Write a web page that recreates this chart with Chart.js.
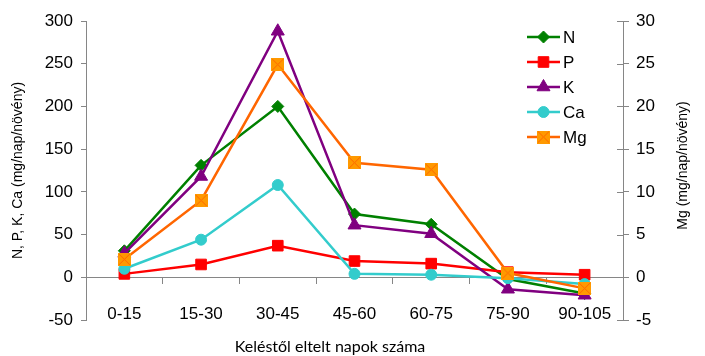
<!DOCTYPE html>
<html>
<head>
<meta charset="utf-8">
<script src="https://cdn.jsdelivr.net/npm/chart.js@4/dist/chart.umd.min.js"></script>
<style>
  html, body { margin: 0; padding: 0; background: #fff; }
  #wrap { width: 705px; height: 356px; }
</style>
</head>
<body>
<div id="wrap"><canvas id="chart" width="705" height="356"></canvas></div>
<script>
// időszakok (napok a keléstől)
const periods = ["0-15", "15-30", "30-45", "45-60", "60-75", "75-90", "90-105"];

// mg/nap/növény
const nValues  = [31, 131, 200, 74, 62, -2, -19];
const pValues  = [4, 15, 37, 19, 16, 6, 3];
const kValues  = [28, 118, 288, 61, 51, -14, -21];
const caValues = [10, 44, 108, 4, 3, -1, -8];
// Mg a jobb tengelyen
const mgValues = [2.1, 9.0, 24.9, 13.4, 12.6, 0.5, -1.3];

const leftTicks = [-50, 0, 50, 100, 150, 200, 250, 300];
const rightTicks = [-5, 0, 5, 10, 15, 20, 25, 30];

const xTitle = "Keléstől eltelt napok száma";
const rightTitle = "Mg (mg/nap/növény)";

const axisGray = "#868686";
const arial = "'Liberation Sans', Arial, sans-serif";
const tickFont = { family: arial, size: 17 };

// Mg jelölő: narancs négyzet X-szel
function mgMarker() {
  let c = document.createElement("canvas");
  c.width = 13; c.height = 13;
  let g = c.getContext("2d");
  g.fillStyle = "#FF9900";
  g.fillRect(0, 0, 13, 13);
  g.strokeStyle = "#FF6600";
  g.lineWidth = 1;
  g.beginPath();
  g.moveTo(1, 1); g.lineTo(12, 12);
  g.moveTo(12, 1); g.lineTo(1, 12);
  g.stroke();
  return c;
}

// jelmagyarázat a rajzterületen belül + címek, amiket a Chart.js máshogy forgatna
const extras = {
  id: "extras",
  afterDraw(chart) {
    const ctx = chart.ctx;
    const area = chart.chartArea;

    chart.data.datasets.forEach((ds, i) => {
      let y = 37 + i * 25;
      ctx.save();
      ctx.strokeStyle = ds.borderColor;
      ctx.lineWidth = ds.borderWidth;
      ctx.beginPath();
      ctx.moveTo(527, y);
      ctx.lineTo(560, y);
      ctx.stroke();
      ctx.fillStyle = ds.pointBackgroundColor;
      ctx.strokeStyle = ds.pointBorderColor;
      ctx.lineWidth = 1;
      Chart.helpers.drawPoint(ctx, { pointStyle: ds.pointStyle, radius: ds.pointRadius, borderWidth: 1, rotation: 0 }, 543.5, y);
      ctx.fillStyle = "#000";
      ctx.font = "17px " + arial;
      ctx.textBaseline = "middle";
      ctx.fillText(ds.label, 563, y + 1);
      ctx.restore();
    });

    // jobb tengely osztásai befelé is
    const y1 = chart.scales.y1;
    ctx.save();
    ctx.strokeStyle = axisGray;
    ctx.lineWidth = 1;
    ctx.beginPath();
    rightTicks.forEach(v => {
      let py = Math.round(y1.getPixelForValue(v)) + 0.5;
      ctx.moveTo(area.right - 6, py);
      ctx.lineTo(area.right, py);
    });
    ctx.stroke();

    // x tengely címe
    ctx.fillStyle = "#000";
    ctx.font = "16px Lato, sans-serif";
    ctx.textAlign = "center";
    ctx.textBaseline = "middle";
    ctx.fillText(xTitle, 330, 347);

    // jobb tengely címe, alulról felfelé
    ctx.translate(683, (area.top + area.bottom) / 2 - 5);
    ctx.rotate(-Math.PI / 2);
    ctx.font = "14px " + arial;
    ctx.fillText(rightTitle, 0, 0);
    ctx.restore();
  }
};

function series(label, data, line, fill, style, radius, axis, order) {
  return {
    label: label,
    data: data,
    yAxisID: axis,
    borderColor: line,
    backgroundColor: fill,
    borderWidth: 2.5,
    pointStyle: style,
    pointRadius: radius,
    pointHoverRadius: radius,
    pointBackgroundColor: fill,
    pointBorderColor: fill,
    pointBorderWidth: 1,
    tension: 0,
    order: order
  };
}

new Chart(document.getElementById("chart"), {
  type: "line",
  data: {
    labels: periods,
    datasets: [
      series("N", nValues, "#008000", "#008000", "rectRot", 6, "y", 4),
      series("P", pValues, "#FF0000", "#FF0000", "rect", 7.5, "y", 3),
      series("K", kValues, "#800080", "#800080", "triangle", 7.5, "y", 2),
      series("Ca", caValues, "#33CCCC", "#33CCCC", "circle", 5.5, "y", 1),
      series("Mg", mgValues, "#FF6600", "#FF9900", mgMarker(), 7, "y1", 0)
    ]
  },
  options: {
    responsive: false,
    animation: false,
    events: [],
    layout: { padding: { top: 21, bottom: 36, left: 0, right: 0 } },
    plugins: { legend: { display: false }, tooltip: { enabled: false } },
    scales: {
      x: {
        type: "category",
        position: { y: 0 },
        offset: true,
        grid: { offset: true, drawOnChartArea: false, tickLength: 6, color: axisGray },
        border: { color: axisGray, width: 1 },
        ticks: { font: tickFont, color: "#000", padding: 21, maxRotation: 0 }
      },
      y: {
        position: "left",
        min: -50, max: 300,
        afterBuildTicks: (s) => { s.ticks = leftTicks.map(v => ({ value: v })); },
        afterFit: (s) => { s.width = 86; },
        grid: { drawOnChartArea: false, tickLength: 5, color: axisGray },
        border: { color: axisGray, width: 1 },
        ticks: { font: tickFont, color: "#000", padding: 8 },
        title: {
          display: true,
          text: "N, P, K, Ca (mg/nap/növény)",
          font: { family: arial, size: 14 },
          color: "#000",
          padding: { top: 10, bottom: 0 }
        }
      },
      y1: {
        position: "right",
        min: -5, max: 30,
        afterBuildTicks: (s) => { s.ticks = rightTicks.map(v => ({ value: v })); },
        afterFit: (s) => { s.width = 82; },
        grid: { drawOnChartArea: false, tickLength: 6, color: axisGray },
        border: { color: axisGray, width: 1 },
        ticks: { font: tickFont, color: "#000", padding: 7 }
      }
    }
  },
  plugins: [extras]
});
</script>
</body>
</html>
